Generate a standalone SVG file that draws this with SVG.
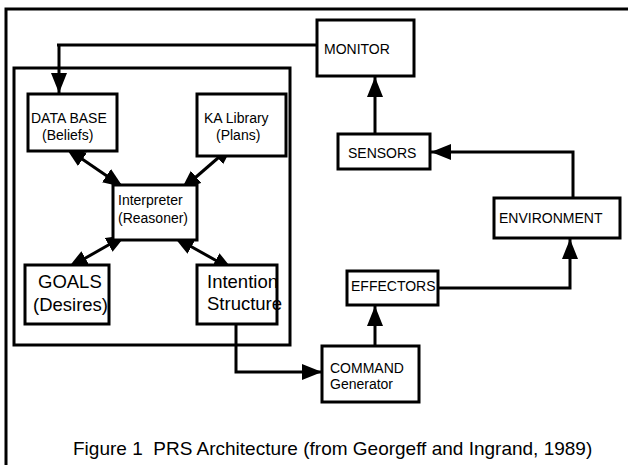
<svg xmlns="http://www.w3.org/2000/svg" width="628" height="465" viewBox="0 0 628 465">
<defs>
<style>
.box{fill:#fff;stroke:#000;stroke-width:3}
.frame{fill:none;stroke:#000;stroke-width:3}
.ln{fill:none;stroke:#000;stroke-width:3}
.arr{marker-end:url(#ah)}
.dbl{marker-start:url(#ah);marker-end:url(#ah)}
text{font-family:"Liberation Sans",Arial,sans-serif;fill:#000}
.s{font-size:14px}
.b{font-size:18.5px}
.c{font-size:19px}
</style>
<marker id="ah" markerUnits="userSpaceOnUse" markerWidth="22" markerHeight="18" refX="20" refY="8" orient="auto-start-reverse" viewBox="0 0 22 18">
<path d="M0,0 L20,8 L0,16 z" fill="#000"/>
</marker>
</defs>
<rect width="628" height="465" fill="#fff"/>
<rect class="frame" x="6" y="9" width="640" height="470"/>
<rect id="agent" class="frame" x="14" y="68" width="276" height="277"/>

<g id="connectors">
<polyline class="ln arr" points="317,45 57,45 59,45 59,93"/>
<line class="ln arr" x1="375" y1="134" x2="375" y2="77"/>
<polyline class="ln arr" points="573,198 573,152 431,152"/>
<polyline class="ln arr" points="438,288 570,288 570,239"/>
<line class="ln arr" x1="375" y1="346" x2="375" y2="306"/>
<polyline class="ln arr" points="236,323 236,372 322,372"/>
<line class="ln dbl" x1="66" y1="148" x2="123" y2="187"/>
<line class="ln dbl" x1="233" y1="145" x2="181" y2="190"/>
<line class="ln dbl" x1="126" y1="235" x2="68" y2="268"/>
<line class="ln dbl" x1="174" y1="237" x2="233" y2="270"/>
</g>

<g id="monitor"><rect class="box" x="317" y="20" width="97" height="56"/><text class="s" x="324" y="54">MONITOR</text></g>
<g id="sensors"><rect class="box" x="338" y="134" width="92" height="35"/><text class="s" x="348" y="158">SENSORS</text></g>
<g id="environment"><rect class="box" x="494" y="198" width="126" height="40"/><text class="s" x="499" y="223">ENVIRONMENT</text></g>
<g id="effectors"><rect class="box" x="347" y="271" width="91" height="34"/><text class="s" x="351" y="291">EFFECTORS</text></g>
<g id="command"><rect class="box" x="322" y="346" width="97" height="56"/><text class="s" x="330" y="373">COMMAND</text><text class="s" x="330" y="389">Generator</text></g>
<g id="intention"><rect class="box" x="197" y="265" width="80" height="59"/><text class="b" x="207" y="288">Intention</text><text class="b" x="207" y="310">Structure</text></g>
<g id="goals"><rect class="box" x="25" y="265" width="84" height="59"/><text class="b" x="38" y="288">GOALS</text><text class="b" x="33" y="311">(Desires)</text></g>
<g id="interpreter"><rect class="box" x="113" y="185" width="84" height="55"/><text class="s" x="118" y="205">Interpreter</text><text class="s" x="118" y="223">(Reasoner)</text></g>
<g id="database"><rect class="box" x="28" y="94" width="89" height="57"/><text class="s" x="31" y="123">DATA BASE</text><text class="s" x="42" y="140">(Beliefs)</text></g>
<g id="kalibrary"><rect class="box" x="197" y="94" width="89" height="62"/><text class="s" x="204" y="123">KA Library</text><text class="s" x="216" y="140">(Plans)</text></g>

<text class="c" x="73" y="455" xml:space="preserve">Figure 1  PRS Architecture (from Georgeff and Ingrand, 1989)</text>
</svg>
